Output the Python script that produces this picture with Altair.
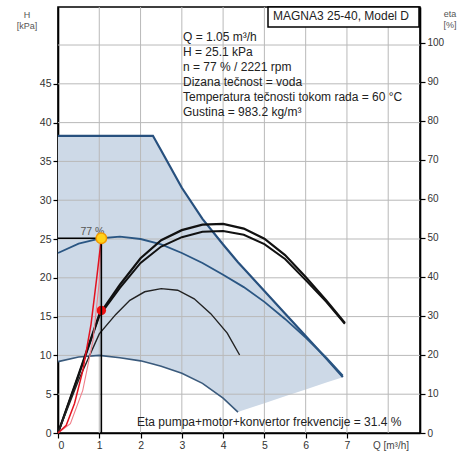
import altair as alt
import pandas as pd

FONT = "Liberation Sans"

# Axis ranges
Q_MAX = 8.77
H_MAX = 54.9
ETA_MAX = 109.2

# Tick / grid positions
q_ticks = [0, 1, 2, 3, 4, 5, 6, 7]
h_ticks = [0, 5, 10, 15, 20, 25, 30, 35, 40, 45]
eta_ticks = [0, 10, 20, 30, 40, 50, 60, 70, 80, 90, 100]
grid_q = [1, 2, 3, 4, 5, 6, 7, 8]
grid_h = [5, 10, 15, 20, 25, 30, 35, 40, 45, 50]

# Operating envelope: top = max-speed curve, bottom = min-speed curve / flow limit
env_q = [0, 0.5, 1.0, 1.5, 2.0, 2.3, 2.5, 3.0, 3.5, 4.0, 4.36, 4.5, 5.0, 5.5, 6.0, 6.5, 6.9]
env_top = [38.3, 38.3, 38.3, 38.3, 38.3, 38.3, 36.4, 31.6, 27.6, 24.3, 22.0, 21.2, 18.3, 15.4, 12.5, 9.6, 7.2]
env_bottom = [9.2, 9.8, 10.0, 9.7, 9.3, 8.9, 8.6, 7.7, 6.4, 4.5, 2.7, 2.95, 3.85, 4.75, 5.6, 6.5, 7.2]

# Pump curve at duty speed
duty_q = [0, 0.5, 1.05, 1.5, 2.0, 2.5, 3.0, 3.5, 4.0, 4.5, 5.0, 5.5, 6.0, 6.5, 6.9]
duty_h = [23.2, 24.4, 25.1, 25.3, 25.0, 24.3, 23.2, 21.9, 20.4, 18.8, 16.9, 14.7, 12.3, 9.7, 7.4]

# System curve through the duty point
sys_q = [0, 0.2, 0.4, 0.6, 0.8, 0.95, 1.05]
sys_h = [0, 1.0, 3.8, 8.0, 14.0, 20.5, 25.1]
pink_q = [0, 0.3, 0.6, 0.85, 1.0, 1.05]
pink_h = [0, 1.2, 5.5, 12.0, 19.5, 25.1]

# Efficiency curves (eta, %)
eta_q = [0, 0.5, 1.0, 1.5, 2.0, 2.5, 3.0, 3.5, 4.0, 4.5, 5.0, 5.5, 6.0, 6.5, 6.95]
eta_a = [0, 15.0, 30.4, 38.0, 44.8, 49.4, 52.0, 53.4, 53.6, 52.4, 49.8, 45.6, 40.0, 34.0, 28.2]
eta_b = [0, 14.8, 30.0, 37.2, 43.6, 47.8, 50.2, 51.6, 51.8, 50.8, 48.4, 44.6, 39.2, 33.6, 28.0]
eta_low_q = [0, 0.5, 1.0, 1.4, 1.74, 2.1, 2.5, 2.9, 3.3, 3.7, 4.1, 4.4]
eta_low = [0, 13.6, 25.4, 30.4, 34.0, 36.2, 37.0, 36.6, 34.4, 30.6, 25.6, 20.0]

# Duty point
duty_point_q = 1.05
duty_point_h = 25.1
duty_point_eta = 31.4
duty_label = "77 %"

info_lines = [
    "Q = 1.05 m³/h",
    "H = 25.1 kPa",
    "n = 77 % / 2221 rpm",
    "Dizana tečnost = voda",
    "Temperatura tečnosti tokom rada = 60 °C",
    "Gustina = 983.2 kg/m³",
]
model_title = "MAGNA3 25-40, Model D"
eta_note = "Eta pumpa+motor+konvertor frekvencije = 31.4 %"

# ---- shared encodings ----
x_scale = alt.Scale(domain=[0, Q_MAX], nice=False, zero=False)
x_axis = alt.Axis(values=q_ticks, title=None, grid=False, orient="bottom",
                  tickSize=5, labelPadding=2, domainWidth=1.6, tickWidth=1.2,
                  labelFontSize=10.5, labelColor="#333", labelFont=FONT,
                  domainColor="black", tickColor="black")
h_scale = alt.Scale(domain=[0, H_MAX], nice=False, zero=False)
h_axis = alt.Axis(values=h_ticks, title=None, grid=False, orient="left",
                  tickSize=5, labelPadding=2, domainWidth=1.6, tickWidth=1.2,
                  labelFontSize=10.5, labelColor="#333", labelFont=FONT,
                  domainColor="black", tickColor="black")
eta_scale = alt.Scale(domain=[0, ETA_MAX], nice=False, zero=False)
eta_axis = alt.Axis(values=eta_ticks, title=None, grid=False, orient="right",
                    tickSize=5, labelPadding=2, domainWidth=1.6, tickWidth=1.2,
                    labelFontSize=10, labelColor="#333", labelFont=FONT,
                    domainColor="black", tickColor="black")

X = lambda f="q": alt.X(f"{f}:Q", scale=x_scale, axis=x_axis)
Y1 = lambda f="h": alt.Y(f"{f}:Q", scale=h_scale, axis=h_axis)
Y3 = lambda f="h": alt.Y(f"{f}:Q", scale=h_scale, axis=None)
YE = lambda f="eta": alt.Y(f"{f}:Q", scale=eta_scale, axis=eta_axis)

env_df = pd.DataFrame({"q": env_q, "h": env_top, "h2": env_bottom})
one = pd.DataFrame({"a": [0]})

# ---- group 1: envelope, grid, head curves (left axis) ----
area = alt.Chart(env_df).mark_area(color="#cdd9e7").encode(
    x=X(), y=Y1(), y2="h2:Q")
vgrid = alt.Chart(pd.DataFrame({"q": grid_q})).mark_rule(
    color="#b9b9b9", strokeWidth=1).encode(x=X(), y=alt.value(0), y2=alt.value(426))
hgrid = alt.Chart(pd.DataFrame({"h": grid_h})).mark_rule(
    color="#b9b9b9", strokeWidth=1).encode(y=Y1(), x=alt.value(0), x2=alt.value(362))
max_line = alt.Chart(env_df).mark_line(color="#27507e", strokeWidth=2.2).encode(
    x=X(), y=Y1())
min_line = alt.Chart(env_df).transform_filter("datum.q <= 4.36").mark_line(
    color="#3a5a7c", strokeWidth=1.6).encode(x=X(), y=Y1("h2"))
duty_line = alt.Chart(pd.DataFrame({"q": duty_q, "h": duty_h})).mark_line(
    color="#2a5683", strokeWidth=1.8).encode(x=X(), y=Y1())

group_h = alt.layer(area, vgrid, hgrid, max_line, min_line, duty_line)

# ---- group 2: efficiency curves (right axis) ----
eta_df_a = pd.DataFrame({"q": eta_q, "eta": eta_a})
eta_df_b = pd.DataFrame({"q": eta_q, "eta": eta_b})
eta_df_low = pd.DataFrame({"q": eta_low_q, "eta": eta_low})
curve_a = alt.Chart(eta_df_a).mark_line(color="#111", strokeWidth=2.2).encode(x=X(), y=YE())
curve_b = alt.Chart(eta_df_b).mark_line(color="#111", strokeWidth=2.0).encode(x=X(), y=YE())
curve_low = alt.Chart(eta_df_low).mark_line(color="#222", strokeWidth=1.4).encode(x=X(), y=YE())
eta_dot = alt.Chart(pd.DataFrame({"q": [duty_point_q], "eta": [duty_point_eta]})).mark_point(
    filled=True, color="#ee1111", size=90, opacity=1).encode(x=X(), y=YE())

group_eta = alt.layer(curve_a, curve_b, curve_low, eta_dot)

# ---- group 3: system curve, duty point, annotations ----
pink = alt.Chart(pd.DataFrame({"q": pink_q, "h": pink_h})).mark_line(
    color="#f07f8a", strokeWidth=1.1).encode(x=X(), y=Y3())
system = alt.Chart(pd.DataFrame({"q": sys_q, "h": sys_h})).mark_line(
    color="#e3121f", strokeWidth=1.5).encode(x=X(), y=Y3())
dp = pd.DataFrame({"q": [duty_point_q], "h": [duty_point_h], "q0": [0.0], "h0": [0.0],
                   "lab": [duty_label]})
vline = alt.Chart(dp).mark_rule(color="black", strokeWidth=1.6).encode(
    x=X(), y=Y3(), y2="h0:Q")
hline = alt.Chart(dp).mark_rule(color="black", strokeWidth=1.6).encode(
    x=X(), x2="q0:Q", y=Y3())
dp_label = alt.Chart(dp).mark_text(align="right", baseline="middle", dx=3, dy=-6,
                                   fontSize=10.5, color="#555", font=FONT).encode(
    x=X(), y=Y3(), text="lab:N")
dp_dot = alt.Chart(dp).mark_point(filled=False, fill="#ffd21a", fillOpacity=1,
                                  stroke="#f29a00", strokeWidth=1.5, size=110,
                                  opacity=1).encode(x=X(), y=Y3())

info = alt.Chart(one).mark_text(align="left", baseline="middle", fontSize=12,
                                lineHeight=15, color="#222", font=FONT).encode(
    x=alt.value(125), y=alt.value(30), text=alt.value(info_lines))
box = alt.Chart(one).mark_rect(fill="white", stroke="black", strokeWidth=1.5).encode(
    x=alt.value(210), x2=alt.value(361), y=alt.value(0), y2=alt.value(20))
box_text = alt.Chart(one).mark_text(align="center", baseline="middle", fontSize=12,
                                    color="#222", font=FONT).encode(
    x=alt.value(283), y=alt.value(9), text=alt.value(model_title))
note = alt.Chart(one).mark_text(align="left", baseline="middle", fontSize=12,
                                color="#222", font=FONT).encode(
    x=alt.value(79), y=alt.value(415), text=alt.value(eta_note))
h_title = alt.Chart(one).mark_text(align="center", baseline="middle", fontSize=9,
                                   lineHeight=11, color="#555", font=FONT).encode(
    x=alt.value(-31), y=alt.value(8), text=alt.value(["H", "[kPa]"]))
eta_title = alt.Chart(one).mark_text(align="center", baseline="middle", fontSize=9,
                                     lineHeight=11, color="#555", font=FONT).encode(
    x=alt.value(392), y=alt.value(7), text=alt.value(["eta", "[%]"]))
q_title = alt.Chart(one).mark_text(align="center", baseline="middle", fontSize=10,
                                   color="#444", font=FONT).encode(
    x=alt.value(333), y=alt.value(439), text=alt.value("Q [m³/h]"))

group_top = alt.layer(pink, system, vline, hline, dp_label, dp_dot,
                      info, box, box_text, note, h_title, eta_title, q_title)

chart = alt.layer(group_h, group_eta, group_top).resolve_scale(
    y="independent"
).properties(
    width=362, height=426,
    autosize=alt.AutoSizeParams(type="none"),
    padding={"left": 58, "top": 7, "right": 39, "bottom": 21},
    background="white",
).configure_view(stroke="black", strokeWidth=1.6)

chart.save("out.html", embed_options={"renderer": "svg", "actions": False})
